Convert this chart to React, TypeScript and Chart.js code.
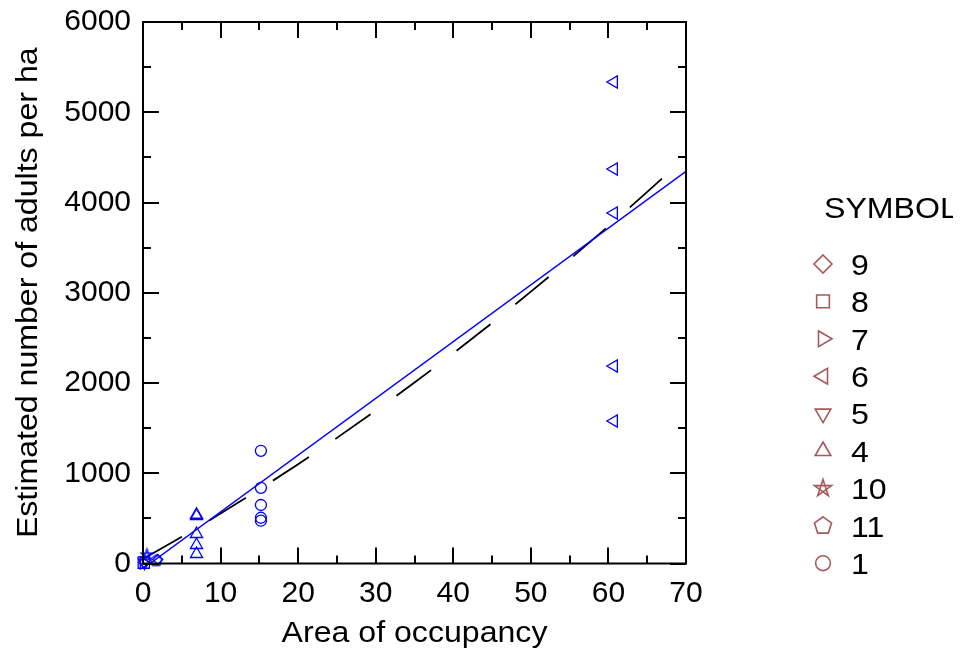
import React, { useEffect, useRef } from 'react';
import { Chart, registerables } from 'chart.js';

Chart.register(...registerables);

// ---------------- data ----------------
// symbol 1 (circles)
const x1 = [15.2, 15.2, 15.2, 15.2, 15.2];
const y1 = [1249, 839, 648, 507, 474];
// symbol 4 (up triangles)
const x4 = [6.9, 6.9, 6.9, 6.9, 6.9];
const y4 = [540, 526, 327, 205, 105];
// symbol 6 (left triangles)
const x6 = [60.7, 60.7, 60.7, 60.7, 60.7];
const y6 = [5335, 4371, 3884, 2188, 1579];
// symbol 8 (squares)
const x8 = [0.1];
const y8 = [10];
// symbol 9 (diamonds)
const x9 = [0.1, 1.9];
const y9 = [10, 45];
// symbol 10 (stars)
const x10 = [0.5];
const y10 = [95];
// symbol 11 (pentagons)
const x11 = [1.7];
const y11 = [30];
// symbol 7 (right triangles)
const x7 = [0.1];
const y7 = [5];
// symbol 5 (down triangles)
const x5 = [0.2];
const y5 = [10];

// linear fit (blue solid)
const linX = [0.9, 70];
const linY = [0, 4346];
// curved fit (black dashed)
const curveX = [0.2, 5, 10, 15, 20, 25, 30, 35, 40, 45, 50, 55, 60, 65, 68];
const curveY = [60, 296, 553, 822, 1101, 1392, 1694, 2006, 2330, 2666, 3012, 3370, 3738, 4118, 4351];

// axes
const xMajor = [0, 10, 20, 30, 40, 50, 60, 70];
const xMinor = [5, 15, 25, 35, 45, 55, 65];
const yMajor = [0, 1000, 2000, 3000, 4000, 5000, 6000];
const yMinor = [500, 1500, 2500, 3500, 4500, 5500];

const xTitle = 'Area of occupancy';
const yTitle = 'Estimated number of adults per ha';
const legendTitle = 'SYMBOL';
const legendLabels = ['9', '8', '7', '6', '5', '4', '10', '11', '1'];
const legendKinds = ['diamond', 'square', 'triRight', 'triLeft', 'triDown', 'triUp', 'star', 'pentagon', 'circle'];

const FONT = "'Liberation Sans', Arial, Helvetica, sans-serif";
const BLUE = '#0000ff';
const BROWN = '#a65a5a';
const STRETCH = 1.07;

function drawMarker(ctx: CanvasRenderingContext2D, kind: string, x: number, y: number, r: number, color: string, lw: number) {
  ctx.save();
  ctx.strokeStyle = color;
  ctx.lineWidth = lw;
  ctx.beginPath();
  const poly = (n: number, rot: number, order?: number[]) => {
    const idx = order || Array.from({ length: n }, (_, i) => i);
    idx.forEach((i, k) => {
      const a = rot + (i * 2 * Math.PI) / n;
      const px = x + r * Math.sin(a);
      const py = y - r * Math.cos(a);
      if (k === 0) ctx.moveTo(px, py);
      else ctx.lineTo(px, py);
    });
    ctx.closePath();
  };
  switch (kind) {
    case 'circle':
      ctx.arc(x, y, r * 0.82, 0, Math.PI * 2);
      break;
    case 'diamond':
      poly(4, 0);
      break;
    case 'square':
      poly(4, Math.PI / 4);
      break;
    case 'triUp':
      poly(3, 0);
      break;
    case 'triDown':
      poly(3, Math.PI);
      break;
    case 'triLeft':
      poly(3, -Math.PI / 2);
      break;
    case 'triRight':
      poly(3, Math.PI / 2);
      break;
    case 'pentagon':
      poly(5, 0);
      break;
    case 'star':
      poly(5, 0, [0, 2, 4, 1, 3]);
      break;
  }
  ctx.stroke();
  ctx.restore();
}

function shapeCanvas(kind: string, color: string, r: number, lw: number) {
  const c = document.createElement('canvas');
  const s = Math.ceil(2 * r + 2 * lw + 2);
  c.width = s;
  c.height = s;
  const ctx = c.getContext('2d')!;
  drawMarker(ctx, kind, s / 2, s / 2, r, color, lw);
  return c;
}

// draws text horizontally stretched, anchored at (x, y) with given alignment
function stretchedText(ctx: CanvasRenderingContext2D, text: string, x: number, y: number, align: 'left' | 'center') {
  ctx.save();
  ctx.translate(x, y);
  ctx.scale(STRETCH, 1);
  ctx.textAlign = align;
  ctx.fillText(text, 0, 0);
  ctx.restore();
}

const pts = (xs: number[], ys: number[]) => xs.map((x, i) => ({ x, y: ys[i] }));

export default function App() {
  const ref = useRef<HTMLCanvasElement>(null);

  useEffect(() => {
    document.documentElement.style.overflow = 'hidden';
    const canvas = ref.current!;

    const markerDs = (label: string, data: any[], style: any, radius: number, rotation = 0) => ({
      label,
      data,
      showLine: false,
      pointStyle: style,
      pointRadius: radius,
      pointHoverRadius: radius,
      pointRotation: rotation,
      pointBorderColor: BLUE,
      pointBackgroundColor: 'rgba(0,0,0,0)',
      pointBorderWidth: 1.3,
      clip: false as any,
    });

    const starImg = shapeCanvas('star', BLUE, 6, 1.3);
    const pentImg = shapeCanvas('pentagon', BLUE, 6, 1.3);

    const frameTicks = {
      id: 'frameTicks',
      afterDatasetsDraw(chart: any) {
        const { ctx, chartArea: a, scales } = chart;
        const xs = scales.x;
        const ys = scales.y;
        ctx.save();
        ctx.strokeStyle = '#000';
        ctx.lineWidth = 2;
        ctx.beginPath();
        const tick = (len: number, isMajor: boolean) => {
          const vals = isMajor ? xMajor : xMinor;
          vals.forEach((v) => {
            const px = Math.round(xs.getPixelForValue(v));
            ctx.moveTo(px, a.bottom);
            ctx.lineTo(px, a.bottom - len);
            ctx.moveTo(px, a.top);
            ctx.lineTo(px, a.top + len);
          });
          const yv = isMajor ? yMajor : yMinor;
          yv.forEach((v) => {
            const py = Math.round(ys.getPixelForValue(v));
            ctx.moveTo(a.left, py);
            ctx.lineTo(a.left + len, py);
            ctx.moveTo(a.right, py);
            ctx.lineTo(a.right - len, py);
          });
        };
        tick(16, true);
        tick(8, false);
        ctx.stroke();
        ctx.strokeRect(a.left, a.top, a.right - a.left, a.bottom - a.top);
        ctx.restore();
      },
      afterDraw(chart: any) {
        const { ctx, chartArea: a } = chart;
        ctx.save();
        ctx.fillStyle = '#000';
        ctx.font = `30px ${FONT}`;
        ctx.textBaseline = 'alphabetic';
        // x title
        stretchedText(ctx, xTitle, (a.left + a.right) / 2, 634, 'center');
        // y title
        ctx.save();
        ctx.translate(29, (a.top + a.bottom) / 2);
        ctx.rotate(-Math.PI / 2);
        stretchedText(ctx, yTitle, 0, 0, 'center');
        ctx.restore();
        // legend
        stretchedText(ctx, legendTitle, 816, 210, 'left');
        legendLabels.forEach((lab, i) => {
          const cy = 256 + i * 37.4;
          drawMarker(ctx, legendKinds[i], 815, cy, 9, BROWN, 1.6);
          ctx.fillStyle = '#000';
          stretchedText(ctx, lab, 843, cy + 10.7, 'left');
        });
        ctx.restore();
      },
    };

    const chart = new Chart(canvas, {
      type: 'scatter',
      data: {
        datasets: [
          markerDs('9', pts(x9, y9), 'rectRot', 5),
          markerDs('8', pts(x8, y8), 'rect', 8),
          markerDs('7', pts(x7, y7), 'triangle', 7, 90),
          markerDs('6', pts(x6, y6), 'triangle', 7, 270),
          markerDs('5', pts(x5, y5), 'triangle', 7, 180),
          markerDs('4', pts(x4, y4), 'triangle', 7, 0),
          markerDs('10', pts(x10, y10), starImg, 6),
          markerDs('11', pts(x11, y11), pentImg, 6),
          markerDs('1', pts(x1, y1), 'circle', 5.5),
          {
            label: 'linear fit',
            data: pts(linX, linY),
            showLine: true,
            borderColor: BLUE,
            borderWidth: 1.5,
            pointRadius: 0,
            fill: false,
            tension: 0,
          } as any,
          {
            label: 'curve fit',
            data: pts(curveX, curveY),
            showLine: true,
            borderColor: '#000',
            borderWidth: 1.8,
            borderDash: [43, 32],
            pointRadius: 0,
            fill: false,
            tension: 0.4,
            cubicInterpolationMode: 'monotone',
          } as any,
        ],
      },
      options: {
        animation: false,
        responsive: true,
        maintainAspectRatio: false,
        layout: { padding: { left: 0, top: 14, right: 267, bottom: 0 } },
        plugins: {
          legend: { display: false },
          tooltip: { enabled: false },
        },
        events: [],
        scales: {
          x: {
            type: 'linear',
            min: 0,
            max: 70,
            grid: { display: false, drawTicks: false },
            border: { display: false },
            ticks: {
              stepSize: 10,
              padding: 15,
              color: '#000',
              maxRotation: 0,
              font: { family: FONT, size: 30, lineHeight: 1 },
              callback: (v: any) => String(v),
            },
            afterFit(scale: any) {
              scale.height = 88.5;
              scale.paddingLeft = 0;
              scale.paddingRight = 0;
            },
          },
          y: {
            type: 'linear',
            min: 0,
            max: 6000,
            grid: { display: false, drawTicks: false },
            border: { display: false },
            ticks: {
              stepSize: 1000,
              padding: 12,
              color: '#000',
              font: { family: FONT, size: 30, lineHeight: 1 },
              callback: (v: any) => String(v),
            },
            afterFit(scale: any) {
              scale.width = 135;
              scale.paddingTop = 0;
              scale.paddingBottom = 0;
            },
          },
        },
      },
      plugins: [frameTicks],
    });
    return () => chart.destroy();
  }, []);

  return (
    <div style={{ position: 'relative', width: 945, height: 644 }}>
      <canvas ref={ref} />
    </div>
  );
}
